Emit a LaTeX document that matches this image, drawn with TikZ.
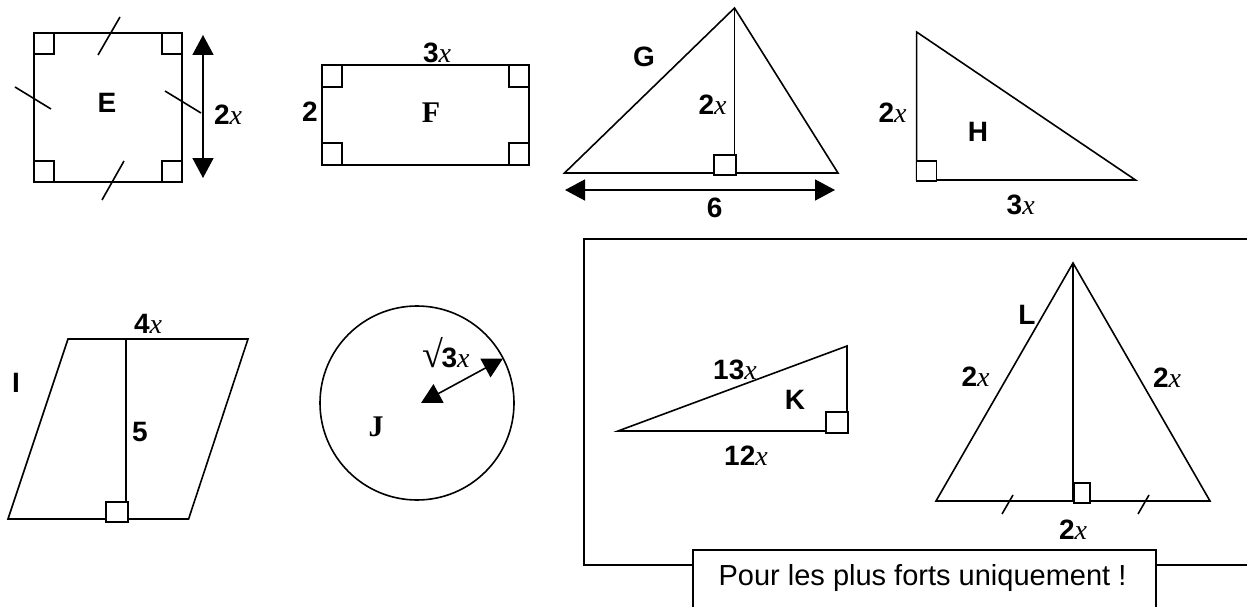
\documentclass[tikz,border=0pt]{standalone}
\usepackage{fontspec}
\setmainfont{Liberation Sans}
\newfontfamily\serifx{Liberation Serif}
\usetikzlibrary{arrows.meta}
\newcommand\xvar{{\serifx\mdseries\itshape x}}
\begin{document}
\begin{tikzpicture}[x=1pt,y=-1pt,line width=1.6pt,line join=miter,
  lbl/.style={font=\fontsize{28}{30}\selectfont\bfseries,inner sep=0pt},
  slbl/.style={font=\fontsize{30}{32}\selectfont\serifx\bfseries,inner sep=0pt},
  ttl/.style={font=\fontsize{29}{31}\selectfont,inner sep=0pt},
  ra/.style={draw,fill=white,line width=1.4pt},
  dimarrow/.style={{Triangle[length=20pt,width=21pt]}-{Triangle[length=20pt,width=21pt]},line width=1.6pt}]
\useasboundingbox (0,0) rectangle (1247,607);
% ---------- E : square ----------
\draw (34,33) rectangle (182,182);
\draw[ra] (34,33) rectangle (54,54);
\draw[ra] (162,33) rectangle (182,54);
\draw[ra] (34,161) rectangle (54,182);
\draw[ra] (162,161) rectangle (182,182);
\draw (120,17) -- (98,55);
\draw (15,87) -- (51,109);
\draw (165,91) -- (201,113);
\draw (124,161) -- (102,200);
\coordinate (eA) at (203,35);
\coordinate (eB) at (203,178);
\draw[dimarrow] (eA) -- (eB);
\node[lbl] (lE) at (107,103) {E};
\node[lbl] (lE2x) at (228,115) {2\xvar};
% ---------- F : rectangle ----------
\draw (322,65) rectangle (529,165);
\draw[ra] (322,65) rectangle (342,87);
\draw[ra] (509,65) rectangle (529,87);
\draw[ra] (322,143) rectangle (342,165);
\draw[ra] (509,143) rectangle (529,165);
\node[lbl] (lF3x) at (437,53) {3\xvar};
\node[lbl] (lF2) at (310,112) {2};
\node[slbl] (lF) at (431,113) {F};
% ---------- G : triangle ----------
\coordinate (gA) at (734.5,8);
\coordinate (gB) at (564.5,173);
\coordinate (gC) at (838,173);
\coordinate (gH) at (734.5,173);
\draw (gA) -- (gB) -- (gC) -- cycle;
\draw (gA) -- (gH);
\draw[ra] (714,155) rectangle (736,175);
\coordinate (gL) at (565,190);
\coordinate (gR) at (835,190);
\draw[dimarrow] (gL) -- (gR);
\node[lbl] (lG6) at (714.6,208) {6};
\node[lbl] (lG) at (644,57) {G};
\node[lbl] (lG2x) at (712.6,105) {2\xvar};
% ---------- H : right triangle ----------
\coordinate (hA) at (916.6,32);
\coordinate (hB) at (916.6,180);
\coordinate (hC) at (1135.5,180);
\draw (hA) -- (hB) -- (hC) -- cycle;
\draw[ra] (916.6,161) rectangle (936.5,181);
\node[lbl] (lH2x) at (892.5,113) {2\xvar};
\node[lbl] (lH) at (978,132) {H};
\node[lbl] (lH3x) at (1020.7,205) {3\xvar};
% ---------- I : parallelogram ----------
\draw (68,339) -- (248,339) -- (188.6,519) -- (8,519) -- cycle;
\coordinate (iT) at (125.7,339);
\coordinate (iB) at (125.7,519);
\draw (iT) -- (iB);
\draw[ra] (106,502) rectangle (128,522);
\node[lbl] (lI4x) at (148,324) {4\xvar};
\node[lbl] (lI) at (16,383) {I};
\node[lbl] (lI5) at (140,432) {5};
% ---------- J : circle ----------
\coordinate (jO) at (421,403);
\draw (417,403) circle[radius=97];
\coordinate (jE) at (503,358.5);
\draw[dimarrow] (jO) -- (jE);
\node[inner sep=0pt,anchor=base west] (lJr) at (422,367) {{\fontsize{38}{40}\selectfont\serifx\char"221A}\kern-2pt{\fontsize{28}{30}\selectfont\bfseries 3\xvar}};
\node[slbl] (lJ) at (376,427) {J};
% ---------- outer frame ----------
\coordinate (fTR) at (1250,239);
\coordinate (fTL) at (584,239);
\coordinate (fBL) at (584,565);
\coordinate (fBR) at (1250,565);
\draw (fTR) -- (fTL) -- (fBL) -- (fBR);
% ---------- K : right triangle ----------
\coordinate (kA) at (618,431);
\coordinate (kB) at (847,431);
\coordinate (kC) at (847,346);
\draw (kA) -- (kB) -- (kC) -- cycle;
\draw[ra] (826,412) rectangle (848,433);
\node[lbl] (lK13x) at (735,370) {13\xvar};
\node[lbl] (lK) at (795,400) {K};
\node[lbl] (lK12x) at (746,456) {12\xvar};
% ---------- L : isosceles triangle ----------
\coordinate (lA) at (1073,263);
\coordinate (lB) at (936,501);
\coordinate (lC) at (1210,501);
\coordinate (lH) at (1073,501);
\draw (lA) -- (lB) -- (lC) -- cycle;
\draw (lA) -- (lH);
\draw[ra] (1074,483) rectangle (1090,503);
\draw (1013,495) -- (1002,514);
\draw (1149,495) -- (1138,514);
\node[lbl] (lL) at (1027,315) {L};
\node[lbl] (lL2a) at (975.6,377) {2\xvar};
\node[lbl] (lL2b) at (1167,378) {2\xvar};
\node[lbl] (lL2c) at (1073,530) {2\xvar};
% ---------- caption box ----------
\draw[fill=white,line width=1.4pt] (693,550) rectangle (1156,620);
\node[ttl] (title) at (922.5,578) {Pour les plus forts uniquement !};
\end{tikzpicture}
\end{document}
